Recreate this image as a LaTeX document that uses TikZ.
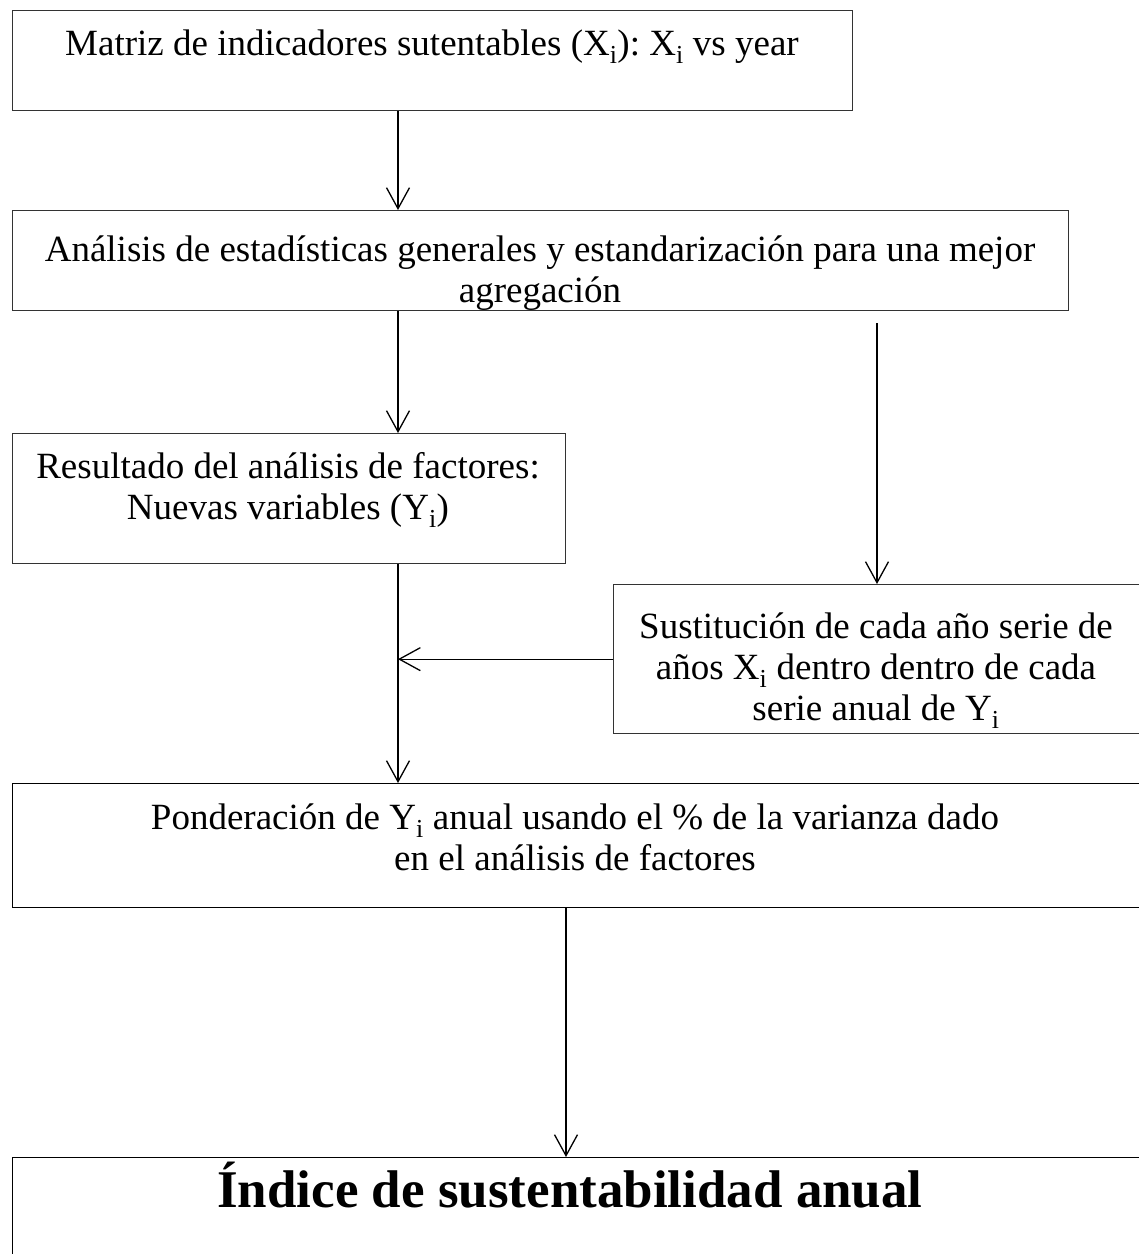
\documentclass[tikz,border=0pt]{standalone}
\usepackage{fontspec}
\setmainfont{Liberation Serif}
\usetikzlibrary{arrows.meta}
\frenchspacing

\tikzset{
  caja/.style={draw=black!80,line width=1.3pt,anchor=north west,inner sep=0pt},
  texto/.style={anchor=base,align=center,inner sep=0pt,
                font=\fontsize{37}{41}\selectfont},
  flecha/.style={-{Straight Barb[length=21pt,width=23pt]},line width=1.3pt}
}

\begin{document}
\begin{tikzpicture}[x=1pt,y=-1pt]
      \useasboundingbox (0,0) rectangle (1139,1254);
      \clip (0,0) rectangle (1139,1254);
      \begin{scope}

        \node[caja,minimum width=840pt,minimum height=100pt]  (matriz) at (12,10) {};
        \node[caja,minimum width=1056pt,minimum height=100pt] (analisis) at (12,210) {};
        \node[caja,minimum width=553pt,minimum height=130pt]  (resultado) at (12,433) {};
        \node[caja,minimum width=540pt,minimum height=149pt]  (sustitucion) at (613,584) {};
        \node[caja,minimum width=1140pt,minimum height=124pt,draw=black] (ponderacion) at (12,783) {};
        \node[caja,minimum width=1140pt,minimum height=150pt,draw=black] (indice) at (12,1157) {};

        \coordinate (ejeA) at (398,0);
        \coordinate (ejeB) at (566,0);
        \coordinate (ejeC) at (877,0);

        % anchor=base sits on the last line
        \node[texto] (tmatriz) at (432,55)
          {Matriz de indicadores sutentables (X\textsubscript{i}): X\textsubscript{i} vs year};
        \node[texto] (tanalisis) at (540,302)
          {Análisis de estadísticas generales y estandarización para una mejor\\ agregación};
        \node[texto] (tresultado) at (288,519)
          {Resultado del análisis de factores:\\ Nuevas variables (Y\textsubscript{i})};
        \node[texto] (tsustitucion) at (876,720)
          {Sustitución de cada año serie de\\ años X\textsubscript{i} dentro dentro de cada\\ serie anual de Y\textsubscript{i}};
        \node[texto] (tponderacion) at (575,870)
          {Ponderación de Y\textsubscript{i} anual usando el \% de la varianza dado\\ en el análisis de factores};
        \node[texto,font=\fontsize{53}{58}\bfseries] (tindice) at (570,1207)
          {Índice de sustentabilidad anual};

        \draw[flecha] (matriz.south -| ejeA) -- (analisis.north -| ejeA);
        \draw[flecha] (analisis.south -| ejeA) -- (resultado.north -| ejeA);
        \draw[flecha] ([yshift=-12pt]analisis.south -| ejeC) -- (sustitucion.north -| ejeC);
        \draw[flecha] (resultado.south -| ejeA) -- (ponderacion.north -| ejeA);
        \draw[flecha] (sustitucion.west) -- (sustitucion.west -| ejeA);
        \draw[flecha] (ponderacion.south -| ejeB) -- (indice.north -| ejeB);
      \end{scope}
\end{tikzpicture}
\end{document}
